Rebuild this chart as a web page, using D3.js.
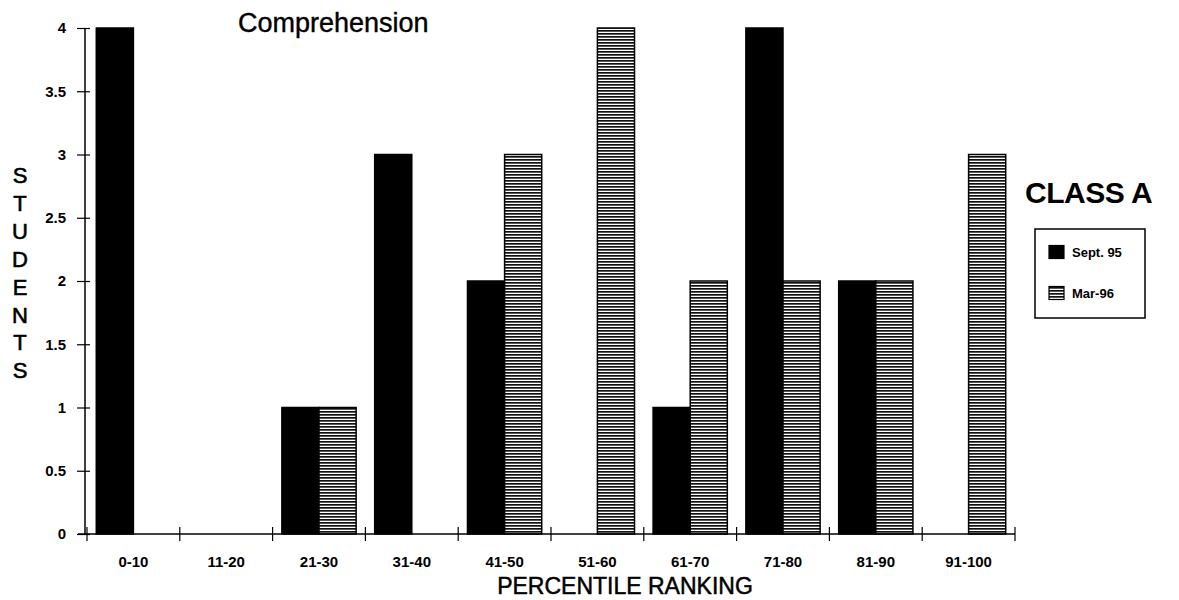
<!DOCTYPE html>
<html>
<head>
<meta charset="utf-8">
<script src="https://cdn.jsdelivr.net/npm/d3@7"></script>
<style>
  body { margin: 0; background: #fff; }
  svg { display: block; font-family: "Liberation Sans", Arial, sans-serif; }
</style>
</head>
<body>
<div id="chart"></div>
<script>
// data
const categories = ["0-10", "11-20", "21-30", "31-40", "41-50", "51-60", "61-70", "71-80", "81-90", "91-100"];
const seriesNames = ["Sept. 95", "Mar-96"];
const sept95 = [4, 0, 1, 3, 2, 0, 1, 4, 2, 0];
const mar96 = [0, 0, 1, 0, 3, 4, 2, 2, 2, 3];
const yTicks = [0, 0.5, 1, 1.5, 2, 2.5, 3, 3.5, 4];
const yLetters = "STUDENTS".split("");

const W = 1179, H = 600;
const x0Left = 87, x0Right = 1015, yTop = 28, yBottom = 534, axisX = 85;

const svg = d3.select("#chart").append("svg").attr("width", W).attr("height", H);

// hatch pattern for Mar-96
const defs = svg.append("defs");
const pat = defs.append("pattern")
  .attr("id", "hatch")
  .attr("patternUnits", "userSpaceOnUse")
  .attr("width", 6).attr("height", 3);
pat.append("rect").attr("width", 6).attr("height", 3).attr("fill", "#fff");
pat.append("rect").attr("y", 0).attr("width", 6).attr("height", 1.7).attr("fill", "#111");

const color = d3.scaleOrdinal().domain(seriesNames).range(["#000", "url(#hatch)"]);

const x0 = d3.scaleBand().domain(categories).range([x0Left, x0Right]).padding(0);
const x1 = d3.scaleBand().domain(seriesNames).range([0, x0.bandwidth()])
  .paddingInner(0).paddingOuter(0.25);
const y = d3.scaleLinear().domain([0, 4]).range([yBottom, yTop]);

const rows = categories.map((c, i) => ({ cat: c, values: [
  { name: seriesNames[0], v: sept95[i] },
  { name: seriesNames[1], v: mar96[i] }
]}));

// bars
const groups = svg.append("g").selectAll("g")
  .data(rows).enter().append("g")
  .attr("transform", (d) => `translate(${x0(d.cat)},0)`);
groups.selectAll("rect")
  .data((d) => d.values.filter((e) => e.v > 0))
  .enter().append("rect")
  .attr("x", (d) => x1(d.name))
  .attr("y", (d) => y(d.v))
  .attr("width", x1.bandwidth())
  .attr("height", (d) => y(0) - y(d.v))
  .attr("fill", (d) => color(d.name))
  .attr("stroke", "#000")
  .attr("stroke-width", 1.5);

// y axis
const yAxis = svg.append("g")
  .attr("transform", `translate(${axisX},0)`)
  .call(d3.axisLeft(y).tickValues(yTicks).tickFormat(d3.format("")).tickSize(8).tickPadding(11));
yAxis.select(".domain").attr("stroke", "#000").attr("stroke-width", 1.5).attr("d", `M0,${yTop}V${yBottom}`);
yAxis.selectAll(".tick line").attr("x1", -8).attr("x2", 5).attr("stroke-width", 1.2);
yAxis.selectAll(".tick text")
  .attr("font-size", 15).attr("font-weight", "bold")
  .attr("font-family", "Liberation Sans, Arial, sans-serif").attr("fill", "#000");

// x axis
const xAxis = svg.append("g").attr("transform", `translate(0,${yBottom})`);
xAxis.append("line")
  .attr("x1", 78).attr("x2", x0Right)
  .attr("stroke", "#000").attr("stroke-width", 1.5);
const edges = categories.map((c) => x0(c)).concat([x0Right]);
xAxis.selectAll("line.tk").data(edges).enter().append("line")
  .attr("class", "tk")
  .attr("x1", (d) => d).attr("x2", (d) => d)
  .attr("y1", -7).attr("y2", 7)
  .attr("stroke", "#000").attr("stroke-width", 1.2);
xAxis.selectAll("text").data(categories).enter().append("text")
  .attr("x", (d) => x0(d) + x0.bandwidth() / 2)
  .attr("y", 33)
  .attr("text-anchor", "middle")
  .attr("font-size", 15).attr("font-weight", "bold")
  .text((d) => d);

// axis titles
svg.append("text")
  .attr("x", 625).attr("y", 594)
  .attr("text-anchor", "middle")
  .attr("font-size", 23)
  .attr("stroke", "#000").attr("stroke-width", 0.5)
  .text("PERCENTILE RANKING");

svg.append("g").selectAll("text")
  .data(yLetters).enter().append("text")
  .attr("x", 20)
  .attr("y", (d, i) => 183 + i * 27.9)
  .attr("text-anchor", "middle")
  .attr("font-size", 22)
  .attr("stroke", "#000").attr("stroke-width", 0.6)
  .text((d) => d);

// chart title
svg.append("text")
  .attr("x", 238).attr("y", 32)
  .attr("font-size", 27)
  .attr("stroke", "#000").attr("stroke-width", 0.4)
  .text("Comprehension");

svg.append("text")
  .attr("x", 1025).attr("y", 203)
  .attr("font-size", 30).attr("font-weight", "bold")
  .attr("letter-spacing", -0.5)
  .text("CLASS A");

// legend
const legend = svg.append("g");
legend.append("rect")
  .attr("x", 1035).attr("y", 229)
  .attr("width", 110).attr("height", 89)
  .attr("fill", "none").attr("stroke", "#000").attr("stroke-width", 1.5);
const items = legend.selectAll("g.item").data(seriesNames).enter().append("g")
  .attr("class", "item")
  .attr("transform", (d, i) => `translate(1049,${252 + i * 41})`);
items.append("rect")
  .attr("x", 0).attr("y", -6.5)
  .attr("width", 15).attr("height", 13)
  .attr("fill", (d) => color(d))
  .attr("stroke", "#000").attr("stroke-width", 1.2);
items.append("text")
  .attr("x", 23).attr("y", 5)
  .attr("font-size", 13).attr("font-weight", "bold")
  .text((d) => d);
</script>
</body>
</html>
